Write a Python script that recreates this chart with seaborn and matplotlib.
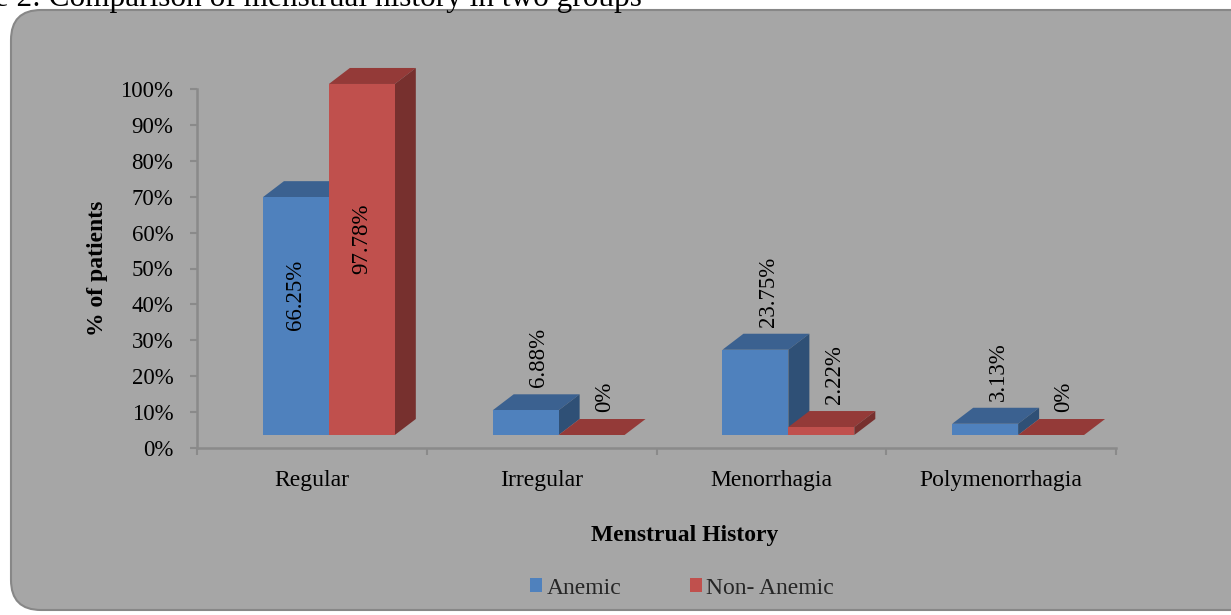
import matplotlib
matplotlib.use("Agg")
import matplotlib.pyplot as plt
from matplotlib.patches import FancyBboxPatch, Polygon, Rectangle
from matplotlib.transforms import IdentityTransform
from matplotlib.ticker import PercentFormatter, FixedLocator
import seaborn as sns
import pandas as pd
import numpy as np

# ---- data ----
categories = ["Regular", "Irregular", "Menorrhagia", "Polymenorrhagia"]
groups = ["Anemic", "Non- Anemic"]
anemic = [0.6625, 0.0688, 0.2375, 0.0313]
non_anemic = [0.9778, 0.0, 0.0222, 0.0]
anemic_labels = ["66.25%", "6.88%", "23.75%", "3.13%"]
non_anemic_labels = ["97.78%", "0%", "2.22%", "0%"]
y_ticks = [0, 0.1, 0.2, 0.3, 0.4, 0.5, 0.6, 0.7, 0.8, 0.9, 1.0]
title = "Figure 2: Comparison of menstrual history in two groups"
x_title = "Menstrual History"
y_title = "% of patients"

df = pd.DataFrame({
    "cat": categories * 2,
    "group": [groups[0]] * 4 + [groups[1]] * 4,
    "val": anemic + non_anemic,
})
label_table = [anemic_labels, non_anemic_labels]

# ---- style ----
sns.set_theme(style="white")
plt.rcParams["font.family"] = ["Liberation Serif", "DejaVu Serif"]

BLUE = "#4f81bd"
RED = "#c0504d"
top_cols = ["#3b6190", "#943a38"]
side_cols = ["#2f5076", "#77302e"]
BG = "#a6a6a6"
AXC = "#8a8a8a"
FS = 17

W, H = 1231, 615
fig = plt.figure(figsize=(W / 100, H / 100), dpi=100)
fig.patch.set_facecolor("white")

box = FancyBboxPatch((11, 5), 1300, 600,
                     boxstyle="round,pad=0,rounding_size=30",
                     facecolor=BG, edgecolor="#878787", linewidth=1.5,
                     transform=IdentityTransform(), zorder=-10)
fig.add_artist(box)

fig.text(642 / W, (H - 6) / H, title, ha="right", va="baseline",
         fontsize=22.5, color="black")

ax = fig.add_axes([197 / W, 167 / H, (1116 - 197) / W, (526 - 167) / H])
ax.set_facecolor("none")

sns.barplot(data=df, x="cat", y="val", hue="group", order=categories,
            hue_order=groups, palette=[BLUE, RED], width=0.574,
            saturation=1, errorbar=None, ax=ax, legend=True)

ax.set_xlim(-0.5, 3.5)
ax.set_ylim(0, 1.0)


def px2data(dx, dy):
    inv = ax.transData.inverted()
    p0 = inv.transform((0, 0))
    p1 = inv.transform((dx, dy))
    return p1[0] - p0[0], p1[1] - p0[1]


ox, oy = px2data(17, 13)      # perspective shift of the front face
ddx, ddy = px2data(21, 16)    # depth of 3D faces

bars = [p for p in ax.patches if isinstance(p, Rectangle) and p.get_width() > 0]
for p in bars:
    cx0 = p.get_x() + p.get_width() / 2
    ci = int(round(cx0))
    gi = 0 if cx0 < ci else 1
    z = 2 + gi
    p.set_x(p.get_x() + ox)
    p.set_y(p.get_y() + oy)
    p.set_clip_on(False)
    p.set_zorder(z + 0.2)
    p.set_edgecolor("none")
    x0 = p.get_x()
    x1 = x0 + p.get_width()
    yb = p.get_y()
    h = p.get_height()
    yt = yb + h
    top = Polygon([(x0, yt), (x1, yt), (x1 + ddx, yt + ddy), (x0 + ddx, yt + ddy)],
                  closed=True, facecolor=top_cols[gi], edgecolor="none",
                  zorder=z + 0.1, clip_on=False)
    side = Polygon([(x1, yb), (x1 + ddx, yb + ddy), (x1 + ddx, yt + ddy), (x1, yt)],
                   closed=True, facecolor=side_cols[gi], edgecolor="none",
                   zorder=z + 0.1, clip_on=False)
    ax.add_patch(top)
    ax.add_patch(side)

    lab = label_table[gi][ci]
    cx = x0 + p.get_width() / 2
    if h > 0.5:
        ax.annotate(lab, xy=(cx, yb + h / 2), xytext=(0, 21),
                    textcoords="offset pixels", rotation=90,
                    ha="center", va="center", fontsize=16.5, color="black",
                    zorder=10, annotation_clip=False)
    else:
        ax.annotate(lab, xy=(cx, yt), xytext=(13, 23),
                    textcoords="offset pixels", rotation=90,
                    ha="center", va="bottom", fontsize=16.5, color="black",
                    zorder=10, annotation_clip=False)

# axes styling
for s in ["top", "right"]:
    ax.spines[s].set_visible(False)
for s in ["left", "bottom"]:
    ax.spines[s].set_color(AXC)
    ax.spines[s].set_linewidth(1.8)

ax.yaxis.set_major_locator(FixedLocator(y_ticks))
ax.yaxis.set_major_formatter(PercentFormatter(xmax=1, decimals=0))
ax.tick_params(axis="y", which="major", direction="out", length=5,
               width=1.5, color=AXC, pad=12, labelsize=16.5, labelcolor="black",
               left=True)
ax.set_xticks(range(len(categories)))
ax.set_xticklabels(categories)
ax.set_xticks(np.arange(-0.5, len(categories), 1.0), minor=True)
ax.tick_params(axis="x", which="major", length=0, pad=15.5, labelsize=FS,
               labelcolor="black")
ax.tick_params(axis="x", which="minor", direction="out", length=5,
               width=1.5, color=AXC, bottom=True)
ax.set_xlabel("")
ax.set_ylabel("")

fig.text(97 / W, (H - 268) / H, y_title, rotation=90, ha="center",
         va="center", fontsize=FS, fontweight="bold", color="black")
fig.text(685 / W, (H - 535) / H, x_title, ha="center", va="center",
         fontsize=FS, fontweight="bold", color="black")

handles, labels = ax.get_legend_handles_labels()
for hd in handles:
    hd.set_edgecolor("none")
ax.legend(handles, labels, loc="center", bbox_to_anchor=(682 / W, 27 / H),
          bbox_transform=fig.transFigure, ncol=2, frameon=False,
          fontsize=FS, handlelength=0.5, handleheight=0.5,
          handletextpad=0.2, columnspacing=2.9, borderaxespad=0)

fig.savefig("out.png", dpi=100)
